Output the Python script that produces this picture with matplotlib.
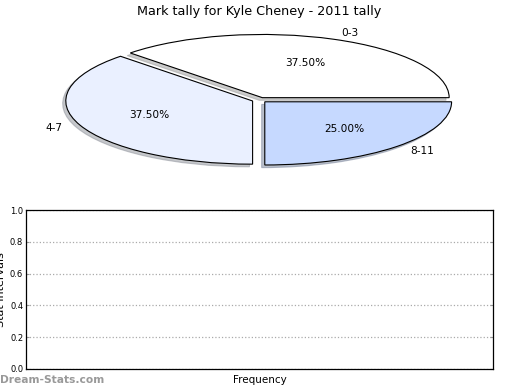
import matplotlib
matplotlib.use("Agg")
import matplotlib.pyplot as plt

labels = ["0-3", "4-7", "8-11"]
shares = [37.5, 37.5, 25.0]
colors = ["#ffffff", "#eaf0ff", "#c6d9ff"]
explode = [0.04, 0.04, 0.04]
title = "Mark tally for Kyle Cheney - 2011 tally"
yticks = [0.0, 0.2, 0.4, 0.6, 0.8, 1.0]

fig = plt.figure(figsize=(5.2, 3.9), dpi=100)

ax1 = fig.add_axes([26/520, 1 - 179/390, 467/520, 158/390])
wedges, texts, autotexts = ax1.pie(
    shares, labels=labels, colors=colors, explode=explode,
    autopct="%1.2f%%", startangle=0,
    shadow=dict(ox=-0.012, oy=-0.03, shade=0.4),
    wedgeprops=dict(edgecolor="black", linewidth=0.8),
    textprops=dict(fontsize=7.6))
ax1.set_aspect("auto")
ax1.set_xlim(-1.25, 1.25)
ax1.set_ylim(-1.25, 1.25)
ax1.set_title(title, fontsize=9.2, pad=4)

ax2 = fig.add_axes([26/520, 1 - 369/390, 467/520, 159/390])
ax2.set_ylim(0, 1)
ax2.set_yticks(yticks)
ax2.set_yticklabels([f"{v:.1f}" for v in yticks], fontsize=6)
ax2.set_xticks([])
ax2.tick_params(axis="y", direction="in", length=2, right=True, color="#999999", pad=2)
ax2.yaxis.grid(True, linestyle=":", color="#aaaaaa", linewidth=0.9)
ax2.set_ylabel("Stat Intervals", fontsize=8, labelpad=3)
ax2.set_xlabel("Frequency", fontsize=7.5, labelpad=4)
for s in ax2.spines.values():
    s.set_linewidth(0.9)

fig.text(0.0, 1 - 380/390, "Dream-Stats.com", fontsize=7.7, color="#999999",
         fontweight="bold", va="center", ha="left")

fig.savefig("out.png", dpi=100)
